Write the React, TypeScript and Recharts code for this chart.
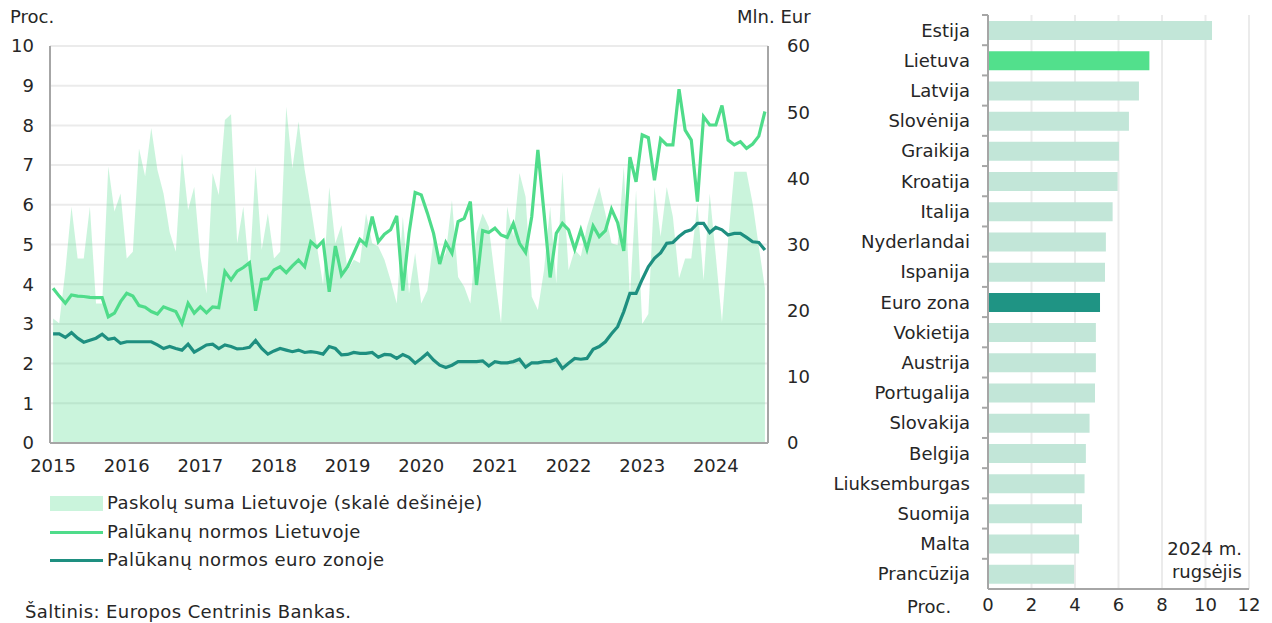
import React from "react";
import {
  ComposedChart,
  Area,
  Line,
  XAxis,
  YAxis,
  CartesianGrid,
  BarChart,
  Bar,
  Cell,
} from "recharts";

// --- left panel: monthly data, 2015-01 .. 2024-09 ---
const years = ["2015", "2016", "2017", "2018", "2019", "2020", "2021", "2022", "2023", "2024"];

// Paskolų suma Lietuvoje, mln. Eur (right axis)
const loans = [
  18.8, 18.1, 26.0, 35.7, 27.9, 27.9, 35.7, 21.1, 21.1, 41.8, 35.0, 37.7,
  27.9, 28.9, 44.5, 40.3, 47.6, 41.3, 37.7, 31.9, 28.9, 43.8, 35.2, 38.7,
  28.2, 22.6, 40.8, 37.5, 48.8, 49.7, 30.2, 35.7, 25.6, 41.8, 29.2, 34.7,
  27.9, 28.9, 50.8, 41.5, 48.6, 41.3, 35.7, 29.7, 23.9, 38.7, 30.2, 32.9,
  26.1, 27.7, 27.2, 34.7, 30.2, 29.7, 27.7, 24.6, 21.1, 34.2, 22.6, 28.7,
  21.1, 23.1, 30.7, 27.2, 28.7, 36.7, 25.1, 23.6, 21.1, 31.7, 34.7, 32.7,
  25.0, 18.1, 35.7, 31.2, 40.8, 37.2, 22.1, 20.1, 26.1, 35.7, 24.1, 41.0,
  26.1, 29.2, 28.2, 32.7, 35.7, 38.7, 34.7, 30.2, 29.9, 41.8, 22.0, 38.2,
  18.0, 19.5, 38.7, 31.2, 38.7, 34.2, 24.9, 27.9, 27.9, 36.2, 24.6, 37.7,
  28.2, 18.3, 30.7, 41.0, 41.0, 41.0, 36.2, 29.7, 23.4,
];

// Palūkanų normos Lietuvoje, proc.
const ltRate = [
  3.90, 3.70, 3.52, 3.73, 3.70, 3.69, 3.67, 3.66, 3.66, 3.18, 3.27, 3.56,
  3.77, 3.70, 3.46, 3.42, 3.31, 3.25, 3.43, 3.37, 3.31, 3.01, 3.52, 3.27,
  3.43, 3.28, 3.43, 3.41, 4.32, 4.11, 4.33, 4.42, 4.54, 3.33, 4.12, 4.14,
  4.36, 4.44, 4.29, 4.46, 4.61, 4.44, 5.07, 4.93, 5.09, 3.81, 4.96, 4.23,
  4.44, 4.78, 5.13, 4.99, 5.70, 5.07, 5.26, 5.37, 5.72, 3.84, 5.28, 6.31,
  6.25, 5.79, 5.28, 4.51, 5.05, 4.78, 5.58, 5.66, 6.08, 3.98, 5.35, 5.30,
  5.41, 5.24, 5.18, 5.53, 5.03, 4.80, 5.70, 7.38, 5.80, 4.17, 5.28, 5.53,
  5.37, 4.88, 5.37, 4.88, 5.47, 5.20, 5.35, 5.89, 5.55, 4.84, 7.20, 6.58,
  7.76, 7.69, 6.62, 7.66, 7.51, 7.51, 8.91, 7.88, 7.63, 6.08, 8.22, 8.01,
  8.01, 8.50, 7.63, 7.51, 7.59, 7.42, 7.53, 7.73, 8.35,
];

// Palūkanų normos euro zonoje, proc.
const ezRate = [
  2.75, 2.75, 2.66, 2.78, 2.64, 2.54, 2.59, 2.64, 2.74, 2.61, 2.64, 2.51,
  2.55, 2.55, 2.55, 2.55, 2.55, 2.47, 2.38, 2.43, 2.38, 2.34, 2.49, 2.29,
  2.38, 2.47, 2.49, 2.38, 2.47, 2.43, 2.37, 2.38, 2.41, 2.58, 2.38, 2.24,
  2.32, 2.38, 2.34, 2.30, 2.34, 2.28, 2.30, 2.28, 2.24, 2.43, 2.38, 2.22,
  2.23, 2.28, 2.26, 2.26, 2.28, 2.16, 2.23, 2.22, 2.13, 2.23, 2.16, 2.01,
  2.13, 2.26, 2.09, 1.96, 1.90, 1.96, 2.05, 2.05, 2.05, 2.05, 2.07, 1.94,
  2.05, 2.02, 2.02, 2.05, 2.11, 1.91, 2.02, 2.02, 2.05, 2.05, 2.11, 1.88,
  2.01, 2.13, 2.11, 2.13, 2.36, 2.43, 2.55, 2.75, 2.93, 3.31, 3.77, 3.77,
  4.12, 4.44, 4.65, 4.79, 5.03, 5.05, 5.20, 5.32, 5.37, 5.53, 5.53, 5.30,
  5.43, 5.37, 5.24, 5.28, 5.28, 5.18, 5.07, 5.05, 4.86,
];

const leftTicks = [0, 1, 2, 3, 4, 5, 6, 7, 8, 9, 10];
const rightTicks = [0, 10, 20, 30, 40, 50, 60];

// --- right panel: 2024 m. rugsėjis ---
const countries = [
  "Estija", "Lietuva", "Latvija", "Slovėnija", "Graikija", "Kroatija", "Italija",
  "Nyderlandai", "Ispanija", "Euro zona", "Vokietija", "Austrija", "Portugalija",
  "Slovakija", "Belgija", "Liuksemburgas", "Suomija", "Malta", "Prancūzija",
];
const countryRates = [
  10.3, 7.42, 6.94, 6.48, 6.02, 5.96, 5.73, 5.42, 5.38, 5.15, 4.96, 4.96, 4.92,
  4.67, 4.5, 4.44, 4.32, 4.19, 3.96,
];
const barTicks = [0, 2, 4, 6, 8, 10, 12];

const FONT = '"DejaVu Sans", Verdana, sans-serif';
const TEXT = "#262626";
const AXIS = "#a6a6a6";
const GRID = "#ebebeb";
const LT_GREEN = "#4fdc8a";
const EZ_TEAL = "#1e8f80";
const BAR_LIGHT = "#c2e6d8";

const monthly = loans.map((m, i) => ({
  idx: i,
  period: `${years[Math.floor(i / 12)]}-${String((i % 12) + 1).padStart(2, "0")}`,
  loans: m,
  lt: ltRate[i],
  ez: ezRate[i],
}));
const yearTicks = years.map((_, k) => k * 12);

const countryData = countries.map((name, i) => ({ name, value: countryRates[i] }));

function barColor(name: string) {
  if (name === "Lietuva") return "#52e08c";
  if (name === "Euro zona") return "#1f9484";
  return BAR_LIGHT;
}

const tickStyle = { fill: TEXT, fontSize: 18, fontFamily: FONT };

function CountryTick(props: any) {
  const { x, y, payload } = props;
  const half = payload.offset ?? 15;
  return (
    <g>
      <line x1={x + 12} x2={x + 18} y1={y - half} y2={y - half} stroke={AXIS} strokeWidth={2} />
      <text x={x} y={y} textAnchor="end" dominantBaseline="central" {...tickStyle}>
        {payload.value}
      </text>
    </g>
  );
}

const label = (extra: React.CSSProperties): React.CSSProperties => ({
  position: "absolute",
  fontFamily: FONT,
  fontSize: 18,
  color: TEXT,
  whiteSpace: "nowrap",
  lineHeight: "22px",
  ...extra,
});

export default function App() {
  return (
    <div
      style={{
        position: "absolute",
        left: 0,
        top: 0,
        width: 1272,
        height: 623,
        background: "#fff",
        overflow: "hidden",
      }}
    >
      {/* Left: loans and interest rates */}
      <div style={{ position: "absolute", left: 0, top: 0 }}>
        <ComposedChart width={830} height={476} data={monthly} margin={{ top: 46, right: 0, left: 0, bottom: 0 }}>
          <CartesianGrid yAxisId="left" horizontal vertical={false} stroke={GRID} strokeWidth={2} />
          <XAxis
            dataKey="idx"
            type="number"
            domain={[-0.5, 116.5]}
            ticks={yearTicks}
            tickFormatter={(v: number) => years[Math.round(v / 12)]}
            height={33}
            tickSize={0}
            tickMargin={16}
            stroke={AXIS}
            strokeWidth={2}
            tick={tickStyle}
            interval={0}
          />
          <YAxis
            yAxisId="left"
            domain={[0, 10]}
            ticks={leftTicks}
            width={50}
            tickSize={0}
            tickMargin={16}
            stroke={AXIS}
            strokeWidth={2}
            tick={tickStyle}
            interval={0}
          />
          <YAxis
            yAxisId="right"
            orientation="right"
            domain={[0, 60]}
            ticks={rightTicks}
            width={62}
            tickSize={0}
            tickMargin={19}
            stroke={AXIS}
            strokeWidth={2}
            tick={{ ...tickStyle, textAnchor: "start" }}
            interval={0}
          />
          <Area
            yAxisId="right"
            dataKey="loans"
            type="linear"
            stroke="none"
            fill={LT_GREEN}
            fillOpacity={0.3}
            isAnimationActive={false}
          />
          <Line
            yAxisId="left"
            dataKey="ez"
            type="linear"
            stroke={EZ_TEAL}
            strokeWidth={3.2}
            dot={false}
            isAnimationActive={false}
          />
          <Line
            yAxisId="left"
            dataKey="lt"
            type="linear"
            stroke={LT_GREEN}
            strokeWidth={3.2}
            dot={false}
            isAnimationActive={false}
          />
        </ComposedChart>
      </div>

      <div style={label({ left: 10, top: 6 })}>Proc.</div>
      <div style={label({ left: 737, top: 6 })}>Mln. Eur</div>

      {/* legend */}
      <div style={{ position: "absolute", left: 50, top: 496, width: 53, height: 15, background: LT_GREEN, opacity: 0.3 }} />
      <div style={label({ left: 107, top: 492, letterSpacing: 0.45 })}>Paskolų suma Lietuvoje (skalė dešinėje)</div>
      <div style={{ position: "absolute", left: 50, top: 531, width: 53, height: 3, background: LT_GREEN }} />
      <div style={label({ left: 107, top: 521, letterSpacing: 0.45 })}>Palūkanų normos Lietuvoje</div>
      <div style={{ position: "absolute", left: 50, top: 559, width: 53, height: 3, background: EZ_TEAL }} />
      <div style={label({ left: 107, top: 549, letterSpacing: 0.45 })}>Palūkanų normos euro zonoje</div>

      <div style={label({ left: 25, top: 601, letterSpacing: 0.4 })}>Šaltinis: Europos Centrinis Bankas.</div>

      {/* Right: country comparison */}
      <div style={{ position: "absolute", left: 820, top: 0 }}>
        <BarChart
          width={452}
          height={623}
          data={countryData}
          layout="vertical"
          margin={{ top: 15, right: 23, left: 0, bottom: 0 }}
          barCategoryGap="35%"
        >
          <CartesianGrid horizontal={false} vertical stroke={GRID} strokeWidth={2} />
          <XAxis
            type="number"
            domain={[0, 12]}
            ticks={barTicks}
            height={34}
            tickSize={0}
            tickMargin={9}
            stroke={AXIS}
            strokeWidth={2}
            tick={tickStyle}
            interval={0}
          />
          <YAxis
            type="category"
            dataKey="name"
            width={168}
            tickSize={0}
            tickMargin={18}
            stroke={AXIS}
            strokeWidth={2}
            tick={<CountryTick />}
            interval={0}
          />
          <Bar dataKey="value" barSize={19} isAnimationActive={false}>
            {countryData.map((d) => (
              <Cell key={d.name} fill={barColor(d.name)} />
            ))}
          </Bar>
        </BarChart>
      </div>

      <div style={label({ left: 907, top: 596 })}>Proc.</div>
      <div style={label({ right: 30, top: 537, textAlign: "right", lineHeight: "23px" })}>
        2024 m.
        <br />
        rugsėjis
      </div>
    </div>
  );
}
